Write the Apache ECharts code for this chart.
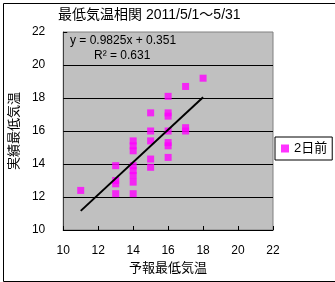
<!DOCTYPE html>
<html>
<head>
<meta charset="utf-8">
<script src="https://cdn.jsdelivr.net/npm/echarts@6/dist/echarts.min.js"></script>
<style>
  html, body { margin: 0; padding: 0; background: #fff; }
  #main { width: 335px; height: 282px; }
</style>
</head>
<body>
<div id="main"></div>
<script>
// 予報(x) と 実績(y) の最低気温
let forecastX = [11, 13, 13, 13, 13, 14, 14, 14, 14, 14, 14, 14, 14,
    15, 15, 15, 15, 15, 16, 16, 16, 16, 16, 16, 16, 17, 17, 17, 18];
let actualY = [12.4, 13.9, 13.0, 12.8, 12.2, 15.4, 15.1, 14.8, 13.9, 13.6, 13.3, 12.9, 12.2,
    17.1, 16.0, 15.4, 14.3, 13.8, 18.1, 17.1, 16.9, 16.0, 15.3, 15.1, 14.4, 18.7, 16.2, 16.0, 19.2];

// 近似直線の両端
let trendX = [11, 18];
let trendY = [11.16, 18.04];

let seriesName = '2日前';
let eqText = 'y = 0.9825x + 0.351';
let r2Text = 'R² = 0.631';

let myChart = echarts.init(document.getElementById('main'));

let font = '"Liberation Sans", "Noto Sans CJK JP", sans-serif';

let option = {
    animation: false,
    textStyle: { fontFamily: font, color: '#000' },
    title: {
        text: '最低気温相関 2011/5/1～5/31',
        left: 53,
        top: 3,
        textStyle: { fontSize: 14, fontWeight: 'normal', color: '#000', fontFamily: font }
    },
    legend: {
        left: 275,
        top: 137,
        orient: 'vertical',
        data: [{ name: seriesName, icon: 'rect' }],
        itemWidth: 8,
        itemHeight: 8,
        itemGap: 4,
        padding: [5, 5, 5, 6],
        borderColor: '#000',
        borderWidth: 1,
        backgroundColor: '#fff',
        textStyle: { fontSize: 13, color: '#000', fontFamily: font }
    },
    grid: {
        left: 63,
        top: 32,
        right: 62,
        bottom: 52,
        show: true,
        backgroundColor: '#c0c0c0',
        borderColor: '#808080',
        borderWidth: 1
    },
    xAxis: {
        type: 'value',
        min: 10,
        max: 22,
        interval: 2,
        name: '予報最低気温',
        nameLocation: 'middle',
        nameGap: 31,
        nameTextStyle: { fontSize: 13, color: '#000' },
        axisLine: { lineStyle: { color: '#000', width: 1 } },
        axisTick: { inside: true, length: 4, lineStyle: { color: '#000' } },
        axisLabel: { fontSize: 12, color: '#000', margin: 15 },
        splitLine: { show: false }
    },
    yAxis: {
        type: 'value',
        min: 10,
        max: 22,
        interval: 2,
        name: '実績最低気温',
        nameLocation: 'middle',
        nameGap: 34,
        nameTextStyle: { fontSize: 13, color: '#000' },
        axisLine: { show: true, lineStyle: { color: '#404040', width: 1 } },
        axisTick: { show: true, inside: true, length: 4, lineStyle: { color: '#000' } },
        axisLabel: { fontSize: 12, color: '#000', margin: 18 },
        splitLine: { show: true, showMaxLine: false, lineStyle: { color: '#000', width: 1 } }
    },
    series: [{
        name: seriesName,
        type: 'scatter',
        symbol: 'rect',
        symbolSize: 7,
        itemStyle: { color: '#ff00ff' },
        data: forecastX.map((x, i) => [x, actualY[i]]),
        z: 3
    }, {
        name: 'trend',
        type: 'line',
        showSymbol: false,
        symbol: 'none',
        lineStyle: { color: '#000', width: 2 },
        data: trendX.map((x, i) => [x, trendY[i]]),
        z: 4
    }],
    graphic: [{
        type: 'rect',
        left: 1,
        top: 1,
        shape: { width: 332, height: 278 },
        style: { fill: 'none', stroke: '#000', lineWidth: 1 },
        silent: true
    }, {
        type: 'text',
        left: 70,
        top: 35,
        style: { text: eqText, fontSize: 12, fill: '#000', fontFamily: font },
        z: 10
    }, {
        type: 'text',
        left: 94,
        top: 50,
        style: { text: r2Text, fontSize: 12, fill: '#000', fontFamily: font },
        z: 10
    }]
};

myChart.setOption(option);
</script>
</body>
</html>
